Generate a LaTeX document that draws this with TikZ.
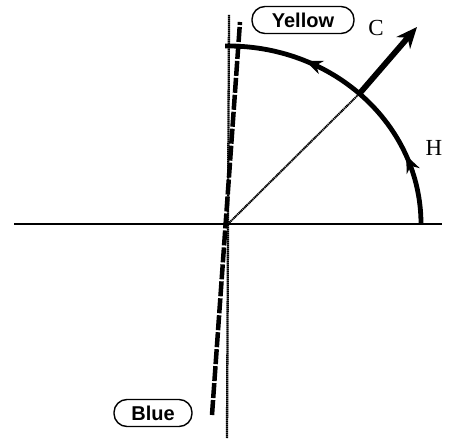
\documentclass[tikz,border=0pt]{standalone}
\usepackage{fontspec}
\setmainfont{Liberation Serif}
\setsansfont{Liberation Sans}
\usetikzlibrary{arrows.meta, decorations.markings}

\begin{document}
\begin{tikzpicture}[x=1pt, y=1pt,
  ax/.style={line width=2.3pt, dash pattern=on 1.5pt off 0.5pt},
  tag/.style={draw, line width=1.4pt, rounded corners=13pt, font=\sffamily\bfseries\fontsize{20}{22}\selectfont,
              minimum height=27pt},
  lbl/.style={font=\fontsize{23}{25}\selectfont},
  orbit/.style={line width=4.8pt,
    decoration={markings,
      mark=at position 0.24 with {\arrow{Stealth[length=17pt, width=14pt]}},
      mark=at position 0.72 with {\arrow{Stealth[length=17pt, width=14pt]}}},
    postaction={decorate}},
  a/.style={-{Stealth[length=21pt, width=18pt]}, line width=5.8pt}]
\useasboundingbox (0,0) rectangle (449,439);
% axes
\coordinate (O) at (228,215);
\coordinate (xl) at (14,215);
\coordinate (xr) at (442,215);
\coordinate (yb) at (227,1);
\coordinate (yt) at (229,424);
\draw[ax] (xl) -- (xr);
\draw[ax] (yb) -- (yt);
% tilted axis
\coordinate (db) at (212,24);
\coordinate (dt) at (240,417);
\draw[line width=4.5pt, dash pattern=on 15pt off 2pt] (db) -- (dt);
% orbit
\coordinate (E) at (421,215);
\coordinate (P) at (360,346);
\coordinate (T) at (417,412);
\draw[orbit] (E) arc[start angle=0, end angle=90, x radius=193, y radius=178] -- ++(-3,0);
\draw[line width=2pt, dash pattern=on 1.3pt off 0.6pt] (O) -- (P);
\draw[a] (P) -- (T);
% labels
\node[lbl] (c) at (376,411) {C};
\node[lbl] (h) at (434,291) {H};
\node[tag, minimum width=102pt] (yellow) at (303,419) {Yellow};
\node[tag, minimum width=78pt] (blue) at (153,26) {Blue};
\end{tikzpicture}
\end{document}
